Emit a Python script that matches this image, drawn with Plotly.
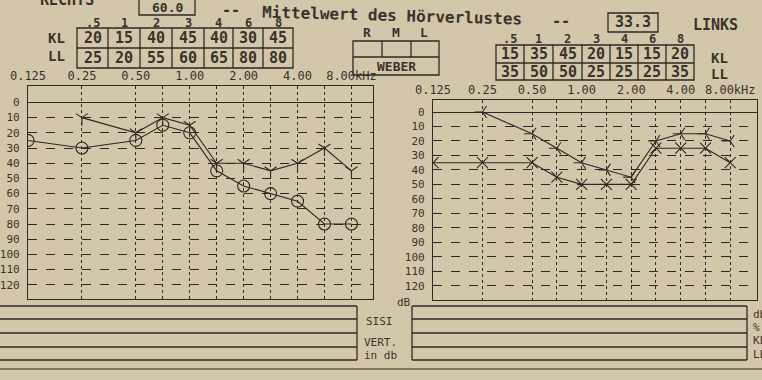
import numpy as np
import plotly.graph_objects as go

# ---------------- data ----------------
FREQ_AIR = [0.125, 0.25, 0.5, 0.75, 1, 1.5, 2, 3, 4, 6, 8]
FREQ_BONE = [0.25, 0.5, 0.75, 1, 1.5, 2, 3, 4, 6, 8]

R_LL = [25, 30, 25, 15, 20, 45, 55, 60, 65, 80, 80]     # right ear, air (circles)
R_KL = [10, 20, 10, 15, 40, 40, 45, 40, 30, 45]          # right ear, bone
L_LL = [35, 35, 35, 45, 50, 50, 50, 25, 25, 25, 35]      # left ear, air (x)
L_KL = [0, 15, 25, 35, 40, 45, 20, 15, 15, 20]           # left ear, bone

TABLE_FREQ = [".5", "1", "2", "3", "4", "6", "8"]
R_TABLE_KL = [20, 15, 40, 45, 40, 30, 45]
R_TABLE_LL = [25, 20, 55, 60, 65, 80, 80]
L_TABLE_KL = [15, 35, 45, 20, 15, 15, 20]
L_TABLE_LL = [35, 50, 50, 25, 25, 25, 35]
R_MEAN = "60.0"
L_MEAN = "33.3"

OCT_FREQ = [0.125, 0.25, 0.5, 1, 2, 4, 8]
OCT_LABELS = ["0.125", "0.25", "0.50", "1.00", "2.00", "4.00", "8.00kHz"]
GRID_FREQ = [0.125, 0.25, 0.5, 0.75, 1, 1.5, 2, 3, 4, 6, 8]
DB_TICKS = list(range(0, 121, 10))

# audiogram frequency scale: octaves equally spaced, inter-octave
# frequencies halfway between (linear within each octave)
def fpos(f):
    return np.interp(f, OCT_FREQ, np.arange(len(OCT_FREQ)))

# ---------------- style ----------------
W, H = 762, 380
BG = "#d3c7ab"
INK = "#3a332a"
LINE = "#2e2922"
MONO = "DejaVu Sans Mono"

def px(x):
    return x / W

def py(y):
    return 1 - y / H

fig = go.Figure()

def add_series(xf, yv, symbol, size, xa, ya):
    fig.add_trace(go.Scatter(
        x=fpos(xf), y=yv, mode="lines+markers",
        line=dict(color=LINE, width=1.1),
        marker=dict(symbol=symbol, size=size, color=LINE,
                    line=dict(color=LINE, width=1.1)),
        xaxis=xa, yaxis=ya, showlegend=False, hoverinfo="skip"))

add_series(FREQ_AIR, R_LL, "circle-open", 12, "x", "y")
add_series(FREQ_BONE, R_KL, "y-down-open", 10, "x", "y")
add_series(FREQ_AIR, L_LL, "x-thin-open", 11, "x2", "y2")
add_series(FREQ_BONE, L_KL, "y-left-open", 10, "x2", "y2")

grid_tickvals = list(fpos(GRID_FREQ))
grid_ticktext = [OCT_LABELS[OCT_FREQ.index(f)] if f in OCT_FREQ else "" for f in GRID_FREQ]

def xaxis(domain, rng, anchor):
    return dict(domain=domain, range=rng, side="top", tickvals=grid_tickvals,
                ticktext=grid_ticktext, showgrid=True, gridcolor=LINE, gridwidth=1,
                griddash="dot", showline=True, mirror=True, linecolor=LINE, linewidth=1.3,
                ticks="", zeroline=False, tickfont=dict(family=MONO, size=12, color=INK),
                ticklabelstandoff=0, fixedrange=True, automargin=False, anchor=anchor)

def yaxis(domain, rng, anchor):
    return dict(domain=domain, range=rng, tickvals=DB_TICKS, showgrid=True,
                gridcolor=LINE, gridwidth=1, griddash="dash", showline=True, mirror=True,
                linecolor=LINE, linewidth=1.3, ticks="", zeroline=True, zerolinecolor=LINE,
                zerolinewidth=1.4, tickfont=dict(family=MONO, size=11, color=INK),
                ticklabelstandoff=5, anchor=anchor, fixedrange=True, automargin=False)

shapes = []

def rect(x0, y0, x1, y1, w=1.3):
    shapes.append(dict(type="rect", xref="paper", yref="paper", x0=px(x0), x1=px(x1),
                       y0=py(y1), y1=py(y0), line=dict(color=LINE, width=w)))

def hline(x0, x1, y, w=1.3):
    shapes.append(dict(type="line", xref="paper", yref="paper", x0=px(x0), x1=px(x1),
                       y0=py(y), y1=py(y), line=dict(color=LINE, width=w)))

def vline(x, y0, y1, w=1.3):
    shapes.append(dict(type="line", xref="paper", yref="paper", x0=px(x), x1=px(x),
                       y0=py(y0), y1=py(y1), line=dict(color=LINE, width=w)))

annotations = []

def text(x, y, s, size=14, anchor="center", bold=False, angle=0):
    annotations.append(dict(xref="paper", yref="paper", x=px(x), y=py(y), text=("<b>%s</b>" % s) if bold else s,
                            showarrow=False, xanchor=anchor, yanchor="middle", textangle=angle,
                            font=dict(family=MONO, size=size, color=INK)))

# header
text(67, 0, "RECHTS", 15, bold=True)
rect(139, -3, 195, 15)
text(167, 7.5, R_MEAN, 13, bold=True)
text(231, 10, "--", 15, bold=True)
text(392, 15, "Mittelwert des Hörverlustes", 16, bold=True, angle=1.5)
text(561, 21, "--", 15, bold=True)
rect(608, 13, 658, 32)
text(633, 22, L_MEAN, 15, bold=True)
text(715, 25, "LINKS", 15, bold=True)

# left table
lx = [77, 108, 140, 172, 204, 233, 263, 293]
rect(lx[0], 28, lx[-1], 68)
hline(lx[0], lx[-1], 48)
for x in lx[1:-1]:
    vline(x, 28, 68)
for i, lab in enumerate(TABLE_FREQ):
    cx = (lx[i] + lx[i + 1]) / 2
    text(cx, 22.5, lab, 12, bold=True)
    text(cx, 38, str(R_TABLE_KL[i]), 15, bold=True)
    text(cx, 58, str(R_TABLE_LL[i]), 15, bold=True)
text(56, 38, "KL", 14, bold=True)
text(56, 56, "LL", 14, bold=True)

# right table
rx = [496, 524, 553, 582, 610, 638, 666, 694]
rect(rx[0], 45, rx[-1], 80)
hline(rx[0], rx[-1], 63)
for x in rx[1:-1]:
    vline(x, 45, 80)
for i, lab in enumerate(TABLE_FREQ):
    cx = (rx[i] + rx[i + 1]) / 2
    text(cx, 38.5, lab, 12, bold=True)
    text(cx, 54, str(L_TABLE_KL[i]), 15, bold=True)
    text(cx, 72, str(L_TABLE_LL[i]), 15, bold=True)
text(719, 58, "KL", 14, bold=True)
text(719, 74, "LL", 14, bold=True)

# Weber box
text(367, 32, "R", 13, bold=True)
text(396, 32, "M", 13, bold=True)
text(424, 32, "L", 13, bold=True)
rect(353, 41, 439, 75)
hline(353, 439, 57)
vline(382, 41, 57)
vline(411, 41, 57)
text(396, 66, "WEBER", 13, bold=True)

# bottom boxes
for y in [306, 319, 333, 347, 360]:
    hline(-5, 357, y)
    hline(412, 747, y)
vline(357, 306, 360)
vline(412, 306, 360)
vline(747, 306, 360)
hline(-5, 767, 369, 1.0)
text(379, 321, "SISI", 11)
text(380, 342, "VERT.", 11)
text(380, 355, "in db", 11)
text(404, 302, "dB", 11)
text(751, 314, "db", 11, anchor="left")
text(751, 327, "%", 11, anchor="left")
text(751, 340, "KL", 11, anchor="left")
text(751, 354, "LL", 11, anchor="left")

fig.update_layout(
    width=W, height=H, margin=dict(l=0, r=0, t=0, b=0, autoexpand=False),
    paper_bgcolor=BG, plot_bgcolor=BG,
    xaxis=xaxis([px(28), px(373)], [0, 6.4], "y"),
    yaxis=yaxis([py(298.5), py(86)], [129, -10.8], "x"),
    xaxis2=xaxis([px(433), px(757)], [0, 6.54], "y2"),
    yaxis2=yaxis([py(299.5), py(100)], [129.5, -8.3], "x2"),
    shapes=shapes, annotations=annotations,
)

fig.write_html(
    "out.html",
    config={"displayModeBar": False},
    post_script="document.body.style.margin='0px';document.body.style.background='%s';" % BG,
)
